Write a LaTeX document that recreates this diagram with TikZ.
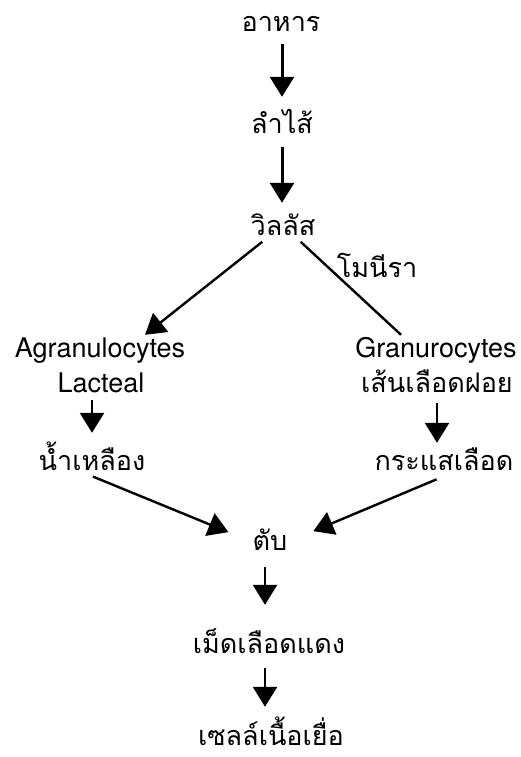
\documentclass[tikz,border=0pt]{standalone}
\usepackage{fontspec}
\setmainfont{TeX Gyre Heros}
\newfontfamily\thai[Script=Thai]{Loma}
\usetikzlibrary{arrows.meta}

\tikzset{
	lbl/.style={anchor=base, inner sep=0, text height=22pt, text depth=6pt, font=\fontsize{27}{32}\selectfont},
	th/.style={lbl, font=\fontsize{27}{32}\selectfont\thai},
	flow/.style={line width=3pt, -{Triangle[length=20pt, width=24pt]}},
	slant/.style={line width=2.4pt, -{Triangle[length=20pt, width=24pt]}}
}

\begin{document}
\begin{tikzpicture}[x=1pt, y=-1pt]
		%%%%% START %%%%%
		\useasboundingbox (0, 0) rectangle (520, 757);
		
		\node[th] (food) at (281, 32) {อาหาร};
		\node[th] (gut) at (282, 133) {ลำไส้};
		\node[th] (villus) at (283, 235) {วิลลัส};
		\node[th] (monira) at (377, 277) {โมนีรา};
		
		\node[lbl] (agran) at (100, 357) {Agranulocytes};
		\node[lbl] (lacteal) at (101, 392) {Lacteal};
		\node[lbl] (gran) at (436, 357) {Granurocytes};
		\node[th] (capil) at (437, 392) {เส้นเลือดฝอย};
		
		\node[th] (lymph) at (92, 470) {น้ำเหลือง};
		\node[th] (stream) at (444, 470) {กระแสเลือด};
		
		\node[th] (liver) at (270, 550) {ตับ};
		\node[th] (rbc) at (269, 653) {เม็ดเลือดแดง};
		\node[th] (tissue) at (271, 745) {เซลล์เนื้อเยื่อ};
		
		% down the middle
		\draw[flow, shorten <=6pt, shorten >=14pt] (food.south -| gut) -- (gut.north);
		\draw[flow, shorten <=8pt, shorten >=10pt] (gut.south) -- (gut.south |- villus.north);
		
		% the split
		\draw[slant, shorten <=1pt] ([xshift=-20pt]villus.south) -- ([xshift=45pt]agran.north);
		\draw[line width=2.4pt, shorten <=1pt] ([xshift=17pt]villus.south) -- ([xshift=-35pt]gran.north);
		
		\draw[flow, line width=2.6pt, shorten <=2pt, shorten >=15pt] (lacteal.south -| lymph) -- (lymph.north);
		\draw[flow, line width=2.6pt, shorten <=5pt, shorten >=5pt] (capil.south) -- (capil.south |- stream.north);
		
		% back together at the liver
		\draw[slant, shorten <=1pt, shorten >=26pt] (lymph.south) -- (liver.west);
		\draw[slant, shorten <=8pt, shorten >=28pt] (stream.south) -- (liver.east);
		
		\draw[flow, line width=2.6pt, shorten <=11pt, shorten >=26pt] ([xshift=-5pt]liver.south) -- ([xshift=-5pt]liver.south |- rbc.north);
		\draw[flow, line width=2.6pt, shorten <=9pt, shorten >=16pt] ([xshift=-4pt]rbc.south) -- ([xshift=-4pt]rbc.south |- tissue.north);
		%%%%% END %%%%%
	\end{tikzpicture}
\end{document}
